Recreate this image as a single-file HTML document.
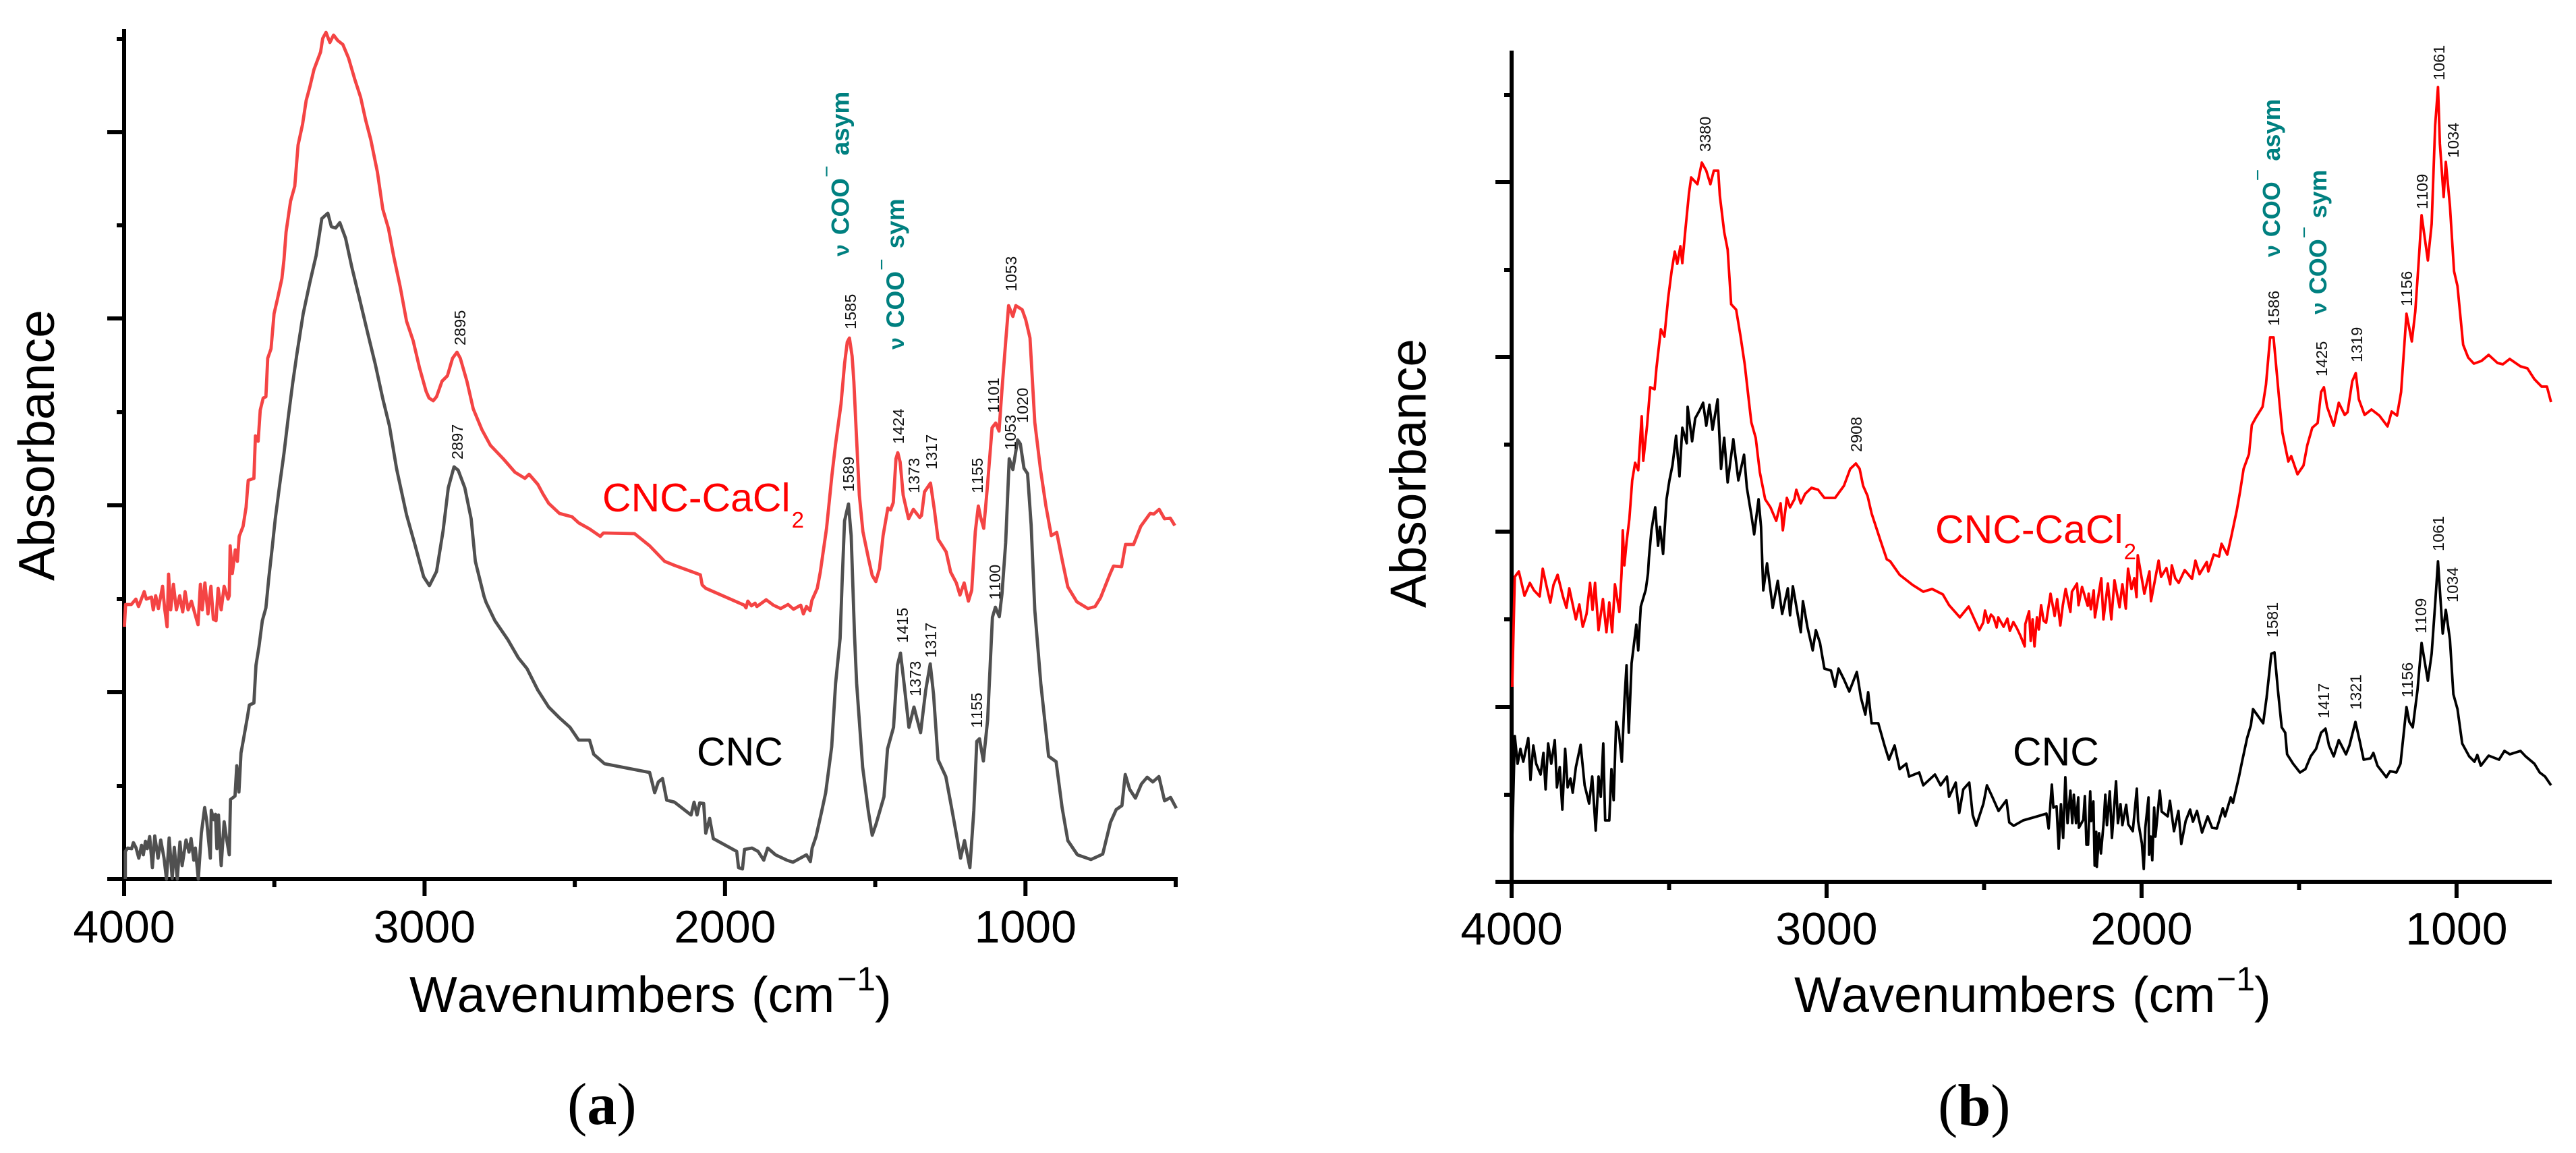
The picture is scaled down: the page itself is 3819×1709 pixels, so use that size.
<!DOCTYPE html>
<html lang="en">
<head>
<meta charset="utf-8">
<title>FTIR spectra of CNC and CNC-CaCl2</title>
<style>
html,body{margin:0;padding:0;background:#fff;width:3819px;height:1709px;overflow:hidden}
svg{display:block}
text{font-family:"Liberation Sans",sans-serif;font-kerning:none}
.peak{font-size:23.5px;fill:#111}
.tick{font-size:68px;fill:#000;text-anchor:middle}
.coo{font-size:37px;font-weight:bold;fill:#008080}
.coo-minus{font-size:30px;font-weight:normal}
.serif{font-family:"Liberation Serif",serif;font-size:88px;fill:#000}
</style>
</head>
<body>
<svg id="figure" xmlns="http://www.w3.org/2000/svg" width="3819" height="1709" viewBox="0 0 3819 1709">
<rect width="3819" height="1709" fill="#fff"/>
<g id="axes-a"></g>
<g id="axes-b"></g>
<g id="lines"></g>

<text transform="translate(80,861) rotate(-90)" font-size="75" textLength="402" lengthAdjust="spacingAndGlyphs">Absorbance</text>
<text transform="translate(2113.5,901) rotate(-90)" font-size="75" textLength="399" lengthAdjust="spacingAndGlyphs">Absorbance</text>

<text x="607" y="1500" font-size="75">Wavenumbers <tspan x="1114" font-size="74">(cm</tspan><tspan x="1241" y="1468" font-size="50">−1</tspan><tspan x="1297" y="1500" font-size="74">)</tspan></text>
<text x="2660" y="1500" font-size="74">Wavenumbers <tspan x="3161" font-size="74">(cm</tspan><tspan x="3286" y="1468" font-size="50">−1</tspan><tspan x="3342" y="1500" font-size="74">)</tspan></text>

<text class="serif" x="841" y="1666">(<tspan font-weight="bold">a</tspan>)</text>
<text class="serif" x="2873" y="1668">(<tspan font-weight="bold">b</tspan>)</text>

<text x="893" y="758" font-size="59" fill="#f00">CNC-CaCl<tspan font-size="33" dy="24" dx="2">2</tspan></text>
<text x="1033" y="1134.5" font-size="59" fill="#000">CNC</text>
<text x="2869" y="805" font-size="59" fill="#f00">CNC-CaCl<tspan font-size="33" dy="24" dx="1">2</tspan></text>
<text x="2984" y="1134.5" font-size="59" fill="#000">CNC</text>

<text class="coo" transform="translate(1258.5,380) rotate(-90)"><tspan font-size="32">ν</tspan><tspan dx="14">COO</tspan><tspan class="coo-minus" dy="-23" dx="1">−</tspan><tspan dy="23" dx="15">asym</tspan></text>
<text class="coo" transform="translate(1340,518) rotate(-90)"><tspan font-size="32">ν</tspan><tspan dx="14">COO</tspan><tspan class="coo-minus" dy="-23" dx="1">−</tspan><tspan dy="23" dx="15">sym</tspan></text>
<text class="coo" style="font-size:36px" transform="translate(3380,381) rotate(-90)"><tspan font-size="32">ν</tspan><tspan dx="12">COO</tspan><tspan class="coo-minus" dy="-23" dx="1">−</tspan><tspan dy="23" dx="12">asym</tspan></text>
<text class="coo" style="font-size:36px" transform="translate(3449,466) rotate(-90)"><tspan font-size="32">ν</tspan><tspan dx="12">COO</tspan><tspan class="coo-minus" dy="-23" dx="1">−</tspan><tspan dy="23" dx="12">sym</tspan></text>

<g>
<text class="peak" transform="translate(690,512) rotate(-90)">2895</text>
<text class="peak" transform="translate(686,681) rotate(-90)">2897</text>
<text class="peak" transform="translate(1269,488) rotate(-90)">1585</text>
<text class="peak" transform="translate(1507,432) rotate(-90)">1053</text>
<text class="peak" transform="translate(1340,658) rotate(-90)">1424</text>
<text class="peak" transform="translate(1363,731) rotate(-90)">1373</text>
<text class="peak" transform="translate(1389,696) rotate(-90)">1317</text>
<text class="peak" transform="translate(1457,731) rotate(-90)">1155</text>
<text class="peak" transform="translate(1481,612) rotate(-90)">1101</text>
<text class="peak" transform="translate(1266,729) rotate(-90)">1589</text>
<text class="peak" transform="translate(1506,667) rotate(-90)">1053</text>
<text class="peak" transform="translate(1524,627) rotate(-90)">1020</text>
<text class="peak" transform="translate(1483,889) rotate(-90)">1100</text>
<text class="peak" transform="translate(1346,953) rotate(-90)">1415</text>
<text class="peak" transform="translate(1365,1032) rotate(-90)">1373</text>
<text class="peak" transform="translate(1388,975) rotate(-90)">1317</text>
<text class="peak" transform="translate(1456,1079) rotate(-90)">1155</text>
</g>
<g>
<text class="peak" transform="translate(2536,225) rotate(-90)">3380</text>
<text class="peak" transform="translate(2760,670) rotate(-90)">2908</text>
<text class="peak" transform="translate(3379,483) rotate(-90)">1586</text>
<text class="peak" transform="translate(3450,558) rotate(-90)">1425</text>
<text class="peak" transform="translate(3502,537) rotate(-90)">1319</text>
<text class="peak" transform="translate(3576,454) rotate(-90)">1156</text>
<text class="peak" transform="translate(3599,310) rotate(-90)">1109</text>
<text class="peak" transform="translate(3624,119) rotate(-90)">1061</text>
<text class="peak" transform="translate(3645,234) rotate(-90)">1034</text>
<text class="peak" transform="translate(3623,817) rotate(-90)">1061</text>
<text class="peak" transform="translate(3377,945) rotate(-90)">1581</text>
<text class="peak" transform="translate(3453,1065) rotate(-90)">1417</text>
<text class="peak" transform="translate(3500.5,1052) rotate(-90)">1321</text>
<text class="peak" transform="translate(3577,1034) rotate(-90)">1156</text>
<text class="peak" transform="translate(3597,939) rotate(-90)">1109</text>
<text class="peak" transform="translate(3644,893) rotate(-90)">1034</text>
</g>
</svg>

<script>
// Axis ticks
const xTickLabels = [4000, 3000, 2000, 1000];
const xMinorTicksA = [3500, 2500, 1500, 500];
const xMinorTicksB = [3500, 2500, 1500];
const yMajorTicksA = [0, 277, 554, 831, 1107];
const yMinorTicksA = [138, 415, 692, 969, 1245];
const yMajorTicksB = [0, 259, 519, 778, 1037];
const yMinorTicksB = [129, 389, 648, 907, 1166];

// Panel (a) CNC-CaCl2
const wavenumbersACaCl2 = [
3999,3995,3976,3961,3952,3933,3926,3909,3903,3895,3886,3872,3865,3857,3852,3845,3836,3826,3815,3805,
3797,3787,3776,3766,3754,3746,3740,3731,3721,3711,3703,3694,3687,3677,3667,3654,3650,3647,3640,3630,
3623,3617,3604,3594,3587,3568,3563,3554,3547,3537,3528,3522,3511,3501,3489,3475,3468,3461,3446,3432,
3421,3406,3394,3382,3368,3346,3339,3328,3315,3303,3289,3272,3253,3232,3213,3196,3179,3157,3139,3120,
3103,3081,3060,3038,3017,2995,2985,2971,2960,2942,2924,2907,2892,2881,2859,2838,2809,2781,2738,2699,
2666,2652,2623,2606,2587,2551,2509,2487,2451,2415,2405,2301,2251,2201,2168,2082,2076,2064,1936,1930,
1924,1912,1900,1894,1863,1839,1815,1790,1772,1748,1739,1729,1717,1711,1693,1683,1662,1644,1632,1614,
1602,1593,1586,1577,1571,1563,1553,1541,1522,1510,1498,1486,1474,1458,1449,1440,1431,1425,1417,1407,
1389,1373,1352,1346,1336,1316,1303,1291,1264,1249,1230,1218,1204,1190,1179,1167,1157,1149,1139,1127,
1111,1099,1088,1078,1066,1056,1042,1032,1011,999,985,969,950,932,914,896,877,859,829,792,
768,750,719,707,680,667,640,616,585,573,555,537,518,503];
const absorbanceACaCl2 = [
374,407,407,415,404,426,415,418,399,420,401,434,401,374,452,399,437,399,420,396,
426,399,412,396,377,437,399,439,393,434,385,383,431,399,434,415,420,494,453,488,
471,508,523,551,591,594,657,649,695,713,715,772,786,838,861,890,918,959,1005,1027,
1088,1119,1154,1174,1200,1226,1246,1255,1240,1251,1243,1237,1217,1185,1159,1125,1096,1048,993,964,
924,878,827,798,758,723,713,709,715,738,746,772,781,772,738,697,666,643,623,603,
594,600,585,571,557,542,537,528,519,508,513,512,494,471,465,451,436,431,406,402,
412,405,409,404,414,406,401,407,400,406,393,404,398,413,431,455,520,599,645,704,
764,796,802,775,737,661,569,515,474,450,441,460,509,550,547,558,623,632,618,569,
534,548,536,539,574,587,547,504,485,455,439,421,439,412,428,515,553,536,520,580,
669,676,664,726,796,850,834,850,844,829,802,677,607,553,509,514,471,433,411,401,
404,417,452,464,463,496,496,523,542,541,548,534,535,524];

// Panel (a) CNC
const wavenumbersACnc = [
3996,3996,3988,3975,3969,3960,3951,3942,3936,3929,3923,3915,3906,3898,3887,3878,3867,3859,3850,3840,
3833,3823,3814,3807,3794,3784,3777,3768,3763,3753,3743,3732,3725,3713,3710,3702,3696,3691,3686,3677,
3667,3659,3650,3646,3631,
3625,3618,3611,3604,
3590,3583,3568,3561,3551,3540,3528,3518,3508,3497,3482,3468,3454,3439,3425,3404,3382,3361,3342,3322,
3310,3296,3282,3263,3242,3217,3189,3164,3139,3117,3093,3060,3031,3003,2984,2960,2938,2921,2902,2888,
2866,2845,2831,2802,2795,2766,2723,2688,2659,2623,2587,2551,2516,2487,2451,2437,2401,2251,2234,2222,
2208,2194,2168,2113,2103,2093,2084,2071,2064,2051,2039,1961,1955,1942,1935,1910,1890,1871,1858,1832,
1794,1774,1729,1716,1710,1697,1678,1665,1645,1632,1617,1610,1602,1589,1580,1569,1562,1542,1523,1510,
1497,1471,1459,1439,1426,1416,1404,1388,1371,1349,1332,1317,1306,1291,1265,1246,1233,1216,1203,1185,
1172,1162,1153,1140,1126,1110,1100,1087,1078,1066,1054,1042,1026,1017,1005,993,981,969,949,923,
898,878,859,827,782,743,717,698,679,668,653,634,614,595,576,556,537,517,498];
const absorbanceACnc = [
0,41,46,45,54,46,31,50,36,56,45,63,17,64,31,58,31,0,61,1,
47,0,55,20,58,40,60,28,46,0,68,106,86,31,102,88,96,45,95,20,
85,60,36,118,123,
168,129,187,204,
239,258,261,317,345,383,402,448,488,534,585,631,683,735,778,838,884,924,979,987,
967,965,973,950,907,861,809,763,712,672,608,540,494,448,435,456,517,580,611,606,
580,534,471,419,410,383,355,328,312,280,255,239,225,206,206,185,171,158,128,144,
149,117,114,95,114,95,113,112,68,90,60,41,17,15,44,46,41,28,46,36,
28,25,36,26,46,63,101,128,196,290,357,444,531,556,509,363,290,166,101,65,
82,122,193,225,317,335,290,225,255,217,280,319,274,177,152,106,74,31,57,17,
101,204,208,175,236,388,403,389,423,498,623,607,651,645,609,601,525,399,290,182,
174,106,57,36,29,37,84,103,109,155,133,120,141,151,144,152,116,121,105];

// Panel (b) CNC-CaCl2
const wavenumbersBCaCl2 = [
3998,3990,3977,3970,3959,3942,3929,3911,3901,3890,3877,3867,3854,3837,3826,3817,3806,3796,3785,3774,
3762,3751,3743,3735,3724,3710,3699,3690,3681,3672,3658,3651,3647,3642,3635,3626,3617,3608,3598,3587,
3582,3570,3560,3546,3540,3526,3515,3503,3492,3482,3474,3464,3458,3448,3437,3430,3410,3396,3382,3369,
3358,3344,3339,3325,3314,3303,3287,3273,3260,3249,3239,3225,3212,3195,3178,3160,3146,3139,3126,3116,
3102,3096,3082,3068,3048,3027,3007,2973,2945,2925,2907,2895,2884,2870,2857,2829,2809,2798,2768,2727,
2693,2665,2631,2611,2577,2549,2515,
2503,2497,2487,2478,2470,2460,2455,2438,2426,2418,2407,2396,2385,2371,2369,2357,2352,2346,2340,2332,
2326,2319,2311,2303,2289,2276,2268,2258,2250,2241,2226,2221,2205,2200,2189,2171,2168,2161,2152,2148,
2128,2121,2107,2096,2086,2070,2061,2050,2043,2032,2023,2016,2012,1991,1975,1970,1946,1938,1921,1909,
1904,1893,1882,1863,
1840,1829,1816,1793,1788,1771,1754,1746,1728,1715,1698,1687,1676,1659,1650,1637,1616,1605,1592,
1581,1564,1553,1534,1525,1505,1486,1474,1458,1441,1430,1421,1411,1390,1374,1355,1346,1331,1320,1310,
1292,1270,1245,1219,1206,1189,1176,1159,1142,1131,1120,1111,1091,1079,1068,1059,1053,1041,1034,1021,
1008,997,979,963,945,921,898,870,853,831,797,775,753,730,713,700];
const absorbanceBCaCl2 = [
289,452,460,446,424,443,432,423,464,440,414,440,455,423,406,435,411,389,411,378,
397,443,403,443,373,419,370,414,370,441,400,457,521,469,503,538,595,621,610,690,
624,676,733,730,762,819,808,865,905,934,916,942,917,968,1020,1044,1034,1066,1054,1034,
1054,1054,1017,963,937,856,848,808,767,722,681,658,607,567,555,535,561,521,569,555,
567,581,561,575,584,581,569,569,587,612,620,612,587,572,546,506,478,475,455,440,
430,434,426,410,392,408,373,
384,402,384,396,392,377,392,378,390,372,385,376,365,349,382,401,357,389,349,392,
374,410,387,384,427,394,419,380,410,434,400,430,442,410,437,409,427,404,432,392,
450,389,442,389,447,407,441,405,464,434,450,422,484,427,460,416,476,452,465,441,
469,450,443,462,
449,476,456,474,460,485,482,501,485,512,550,579,612,634,677,688,704,737,807,
807,720,666,623,631,604,617,647,673,680,726,733,704,676,710,692,696,742,754,715,
692,700,691,675,697,691,726,842,801,845,921,988,921,975,1121,1178,1094,1015,1067,1002,
905,883,796,777,768,772,781,769,767,775,764,761,745,734,734,711];

// Panel (b) CNC
const wavenumbersBCnc = [
3998,3990,3981,3972,3963,3947,3940,3931,3922,3908,3899,3892,3884,3874,3863,3856,3847,3839,3830,3822,
3813,3806,3796,3781,3768,3754,3744,3733,3724,3717,3709,3703,3690,3683,3676,3668,3660,3650,3642,3635,
3628,3619,3604,3598,3590,3574,3567,3564,3556,3544,3535,3529,3519,3508,3499,3489,3478,3467,3458,3444,
3441,3427,3417,3403,3392,3382,3372,3362,3346,3335,3325,3314,3296,3280,3262,3253,3239,3230,3216,3208,
3201,3189,3171,3155,3141,3123,3116,3107,3082,3075,3061,3044,3034,3021,3007,2986,2973,2962,2945,2928,
2904,2891,2877,2868,2857,2836,2816,2802,2784,2768,2747,2738,2706,2693,2656,2638,2618,2611,2590,2579,
2566,2547,2536,2525,2502,2491,2474,2454,2429,2420,2406,2376,
2331,2302,2295,2285,2280,2270,2263,2256,2249,2242,2235,2226,2220,2215,2208,2201,2199,2185,2180,2175,
2170,2163,2160,2153,2149,2144,2142,2135,2129,2120,2115,2110,2101,2094,2081,2075,2067,2061,2049,2042,
2028,2015,2011,1999,1993,1988,1978,1976,1971,1966,1960,1956,1942,1936,1917,1910,1897,1883,1874,1860,
1846,1837,1824,1808,1790,1776,1761,1742,1735,1717,1710,1691,
1681,1665,1653,1646,1631,1614,1603,1588,1578,1567,1555,1544,1538,1519,1497,1480,1463,1446,
1430,1416,1405,1390,1374,1351,1340,1321,1307,1295,1273,1264,1251,1223,1211,1191,1178,1159,1150,1139,
1124,1111,1091,1079,1068,1059,1044,1034,1021,1010,997,982,960,943,934,923,898,865,848,831,
797,781,753,736,719,700];
const absorbanceBCnc = [
61,216,175,197,178,213,151,202,175,159,191,137,205,175,210,140,170,107,197,140,
153,132,170,203,143,116,156,76,156,126,205,91,91,167,121,237,224,178,267,321,
221,324,381,343,408,433,457,480,521,555,498,526,486,567,595,618,661,601,673,650,
704,653,687,699,710,676,707,670,715,612,658,592,656,595,633,584,544,515,567,526,
432,472,406,446,397,435,395,438,370,416,378,343,373,354,316,313,289,316,300,282,
311,273,248,281,235,235,202,181,202,167,175,156,162,143,159,143,156,126,147,102,
137,147,99,83,116,143,126,105,121,88,83,91,
97,101,79,144,110,112,49,115,65,155,87,135,87,129,87,125,80,92,127,55,
55,134,90,119,24,74,22,72,42,90,129,84,134,65,149,87,115,84,114,85,
75,138,90,57,19,80,125,40,67,32,110,67,135,104,97,120,75,105,56,90,
107,89,105,73,97,80,79,109,97,125,117,155,
178,213,232,256,246,235,273,338,340,284,229,221,189,175,162,167,186,197,
221,227,202,186,210,189,202,237,208,181,183,191,172,155,164,162,175,259,237,229,
284,354,298,338,412,475,368,403,359,278,256,205,186,178,188,172,187,181,194,189,
194,186,175,162,156,143];

function linearScale(d0, d1, r0, r1) {
  return function (v) { return r0 + (v - d0) * (r1 - r0) / (d1 - d0); };
}
const xA = linearScale(4000, 500, 184, 1743);
const yA = linearScale(0, 1260, 1303, 43);
const xB = linearScale(4000, 700, 2241, 3782);
const yB = linearScale(0, 1232, 1307, 75);
const SVG_NS = 'http://www.w3.org/2000/svg';

function seg(parent, name, x1, y1, x2, y2, w) {
  const el = document.createElementNS(SVG_NS, 'line');
  
  
  el.setAttribute('x1', x1);
  el.setAttribute('y1', y1);
  el.setAttribute('x2', x2);
  el.setAttribute('y2', y2);
  el.setAttribute('stroke', '#000');
  el.setAttribute('stroke-width', w);
  parent.appendChild(el);
}

function drawAxes(parent, x, y, xMinor, yMajor, yMinor, o) {
  seg(parent, 'y-axis-line', x(4000), o.top, x(4000), o.majorBottom, 6);
  seg(parent, 'x-axis-line', o.majorLeft, y(0), o.end, y(0), 6);
  yMajor.forEach(function (v) { seg(parent, 'y-major-tick', o.majorLeft, y(v), x(4000), y(v), 6); });
  yMinor.forEach(function (v) { seg(parent, 'y-minor-tick', o.minorLeft, y(v), x(4000), y(v), 6); });
  xTickLabels.forEach(function (w) {
    seg(parent, 'x-major-tick', x(w), y(0), x(w), o.majorBottom, 6);
    const label = document.createElementNS(SVG_NS, 'text');
    
    
    label.setAttribute('class', 'tick');
    label.setAttribute('x', x(w));
    label.setAttribute('y', o.labelY);
    label.textContent = String(w);
    parent.appendChild(label);
  });
  xMinor.forEach(function (w) { seg(parent, 'x-minor-tick', x(w), y(0), x(w), o.minorBottom, 6); });
}

function drawSpectrum(name, wavenumbers, values, x, y, color, width) {
  const n = Math.min(wavenumbers.length, values.length);
  const parts = [];
  for (let i = 0; i < n; i++) {
    parts.push((i ? 'L' : 'M') + x(wavenumbers[i]).toFixed(1) + ' ' + y(values[i]).toFixed(1));
  }
  const path = document.createElementNS(SVG_NS, 'path');
  
  
  path.setAttribute('d', parts.join(''));
  path.setAttribute('fill', 'none');
  path.setAttribute('stroke', color);
  path.setAttribute('stroke-width', width);
  path.setAttribute('stroke-linejoin', 'round');
  document.getElementById('lines').appendChild(path);
}

drawAxes(document.getElementById('axes-a'), xA, yA, xMinorTicksA, yMajorTicksA, yMinorTicksA,
  {top: 43, majorBottom: 1328, minorBottom: 1315, majorLeft: 159, minorLeft: 173, end: 1746, labelY: 1397});
drawAxes(document.getElementById('axes-b'), xB, yB, xMinorTicksB, yMajorTicksB, yMinorTicksB,
  {top: 75, majorBottom: 1331, minorBottom: 1319, majorLeft: 2217, minorLeft: 2230, end: 3783, labelY: 1400});

drawSpectrum('panel-a-cnc-cacl2-spectrum', wavenumbersACaCl2, absorbanceACaCl2, xA, yA, '#f44444', 4.8);
drawSpectrum('panel-a-cnc-spectrum', wavenumbersACnc, absorbanceACnc, xA, yA, '#505050', 4.8);
drawSpectrum('panel-b-cnc-cacl2-spectrum', wavenumbersBCaCl2, absorbanceBCaCl2, xB, yB, '#ff0000', 3.8);
drawSpectrum('panel-b-cnc-spectrum', wavenumbersBCnc, absorbanceBCnc, xB, yB, '#000000', 3.8);
</script>
</body>
</html>
